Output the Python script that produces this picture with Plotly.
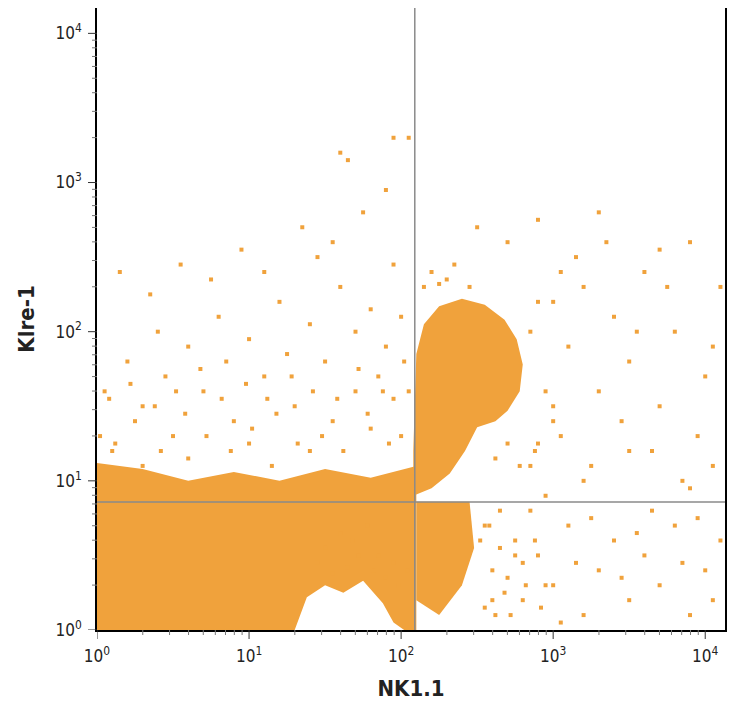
import plotly.graph_objects as go

ORANGE = "#F0A23C"

# quadrant gates (linear units)
gate_x = 123
gate_y = 7.2

# dense regions, vertices in log10 units (NK1.1, Klre-1)
dense_ll_x = [0, 1.3, 1.38, 1.5, 1.62, 1.75, 1.88, 1.95, 2.02, 2.1, 2.1, 1.8, 1.5, 1.2, 0.9, 0.6, 0.3, 0]
dense_ll_y = [0, 0, 0.22, 0.3, 0.25, 0.33, 0.18, 0.05, 0, 0, 1.1, 1.02, 1.08, 1.0, 1.06, 1.0, 1.08, 1.12]
blob_x = [2.08, 2.1, 2.15, 2.25, 2.4, 2.55, 2.68, 2.76, 2.8, 2.78, 2.7, 2.62, 2.5, 2.42, 2.32, 2.2, 2.08]
blob_y = [1.2, 1.85, 2.05, 2.17, 2.22, 2.18, 2.08, 1.95, 1.78, 1.6, 1.47, 1.4, 1.36, 1.2, 1.05, 0.95, 0.9]
dense_lr_x = [2.1, 2.25, 2.4, 2.48, 2.45, 2.3, 2.1]
dense_lr_y = [0.2, 0.1, 0.3, 0.55, 0.86, 0.86, 0.86]

# sparse events, log10 units
sparse_x = [0.1, 0.3, 0.5, 0.7, 0.9, 1.1, 1.3, 1.5, 1.7, 1.9, 2.0, 0.2, 0.4, 0.6, 0.8, 1.0, 1.2, 1.4, 1.6, 1.8,
            0.15, 0.55, 0.95, 1.35, 1.55, 1.75, 1.95, 1.6, 1.65, 1.9, 2.05, 1.95, 0.3, 0.6, 1.0, 1.4, 1.8, 0.05,
            1.25, 1.85, 0.35, 0.75, 1.1, 1.45, 1.7, 2.0, 0.45, 0.85, 1.15, 1.55, 1.95,
            0.02, 0.12, 0.25, 0.42, 0.58, 0.72, 0.88, 1.02, 1.18, 1.32, 1.48, 1.62, 1.78, 1.92, 2.05,
            0.08, 0.22, 0.38, 0.52, 0.68, 0.82, 0.98, 1.12, 1.28, 1.42, 1.58, 1.72, 1.88, 2.02,
            1.45, 1.55, 1.65, 1.72, 1.82, 1.9, 1.98, 1.5, 1.68, 1.85, 1.95, 1.6, 1.78, 2.04,
            3.0, 3.1, 3.2, 3.3, 3.4, 3.5, 3.6, 3.7, 3.8, 3.9, 4.0, 4.1, 3.05, 3.25, 3.45, 3.65, 3.85, 3.95, 4.05,
            3.15, 3.35, 3.55, 3.75, 3.0, 3.2, 3.5, 3.9, 2.7, 2.5, 2.9, 3.05, 4.05, 3.7, 3.3,
            2.8, 2.9, 3.0, 3.1, 3.2, 3.3, 3.4, 3.5, 3.6, 3.7, 3.8, 3.9, 4.0, 4.1, 2.85, 3.05, 3.25, 3.45, 3.65,
            3.85, 3.95, 4.05, 2.75, 3.15, 3.55, 2.6, 2.65, 2.55, 2.7, 2.62, 2.85, 2.9, 2.95, 2.3, 2.2, 2.35,
            2.55, 2.6, 2.68, 2.75, 2.82, 2.88, 2.92, 2.58, 2.72, 2.8, 2.65, 2.52, 2.95, 2.15, 2.25, 2.45,
            2.85, 2.9, 2.95, 3.0, 2.88, 2.78, 2.7, 2.62]
sparse_y = [1.2, 1.5, 1.3, 1.6, 1.4, 1.7, 1.5, 1.8, 1.6, 1.9, 1.3, 1.8, 2.0, 1.9, 2.1, 1.95, 2.2, 2.05, 2.3, 2.15,
            2.4, 2.45, 2.55, 2.7, 2.6, 2.8, 2.45, 3.2, 3.15, 2.95, 3.3, 3.3, 1.1, 1.15, 1.25, 1.2, 1.35, 1.6,
            1.85, 1.7, 2.25, 2.35, 2.4, 2.5, 2.0, 2.1, 1.7, 1.8, 1.1, 1.4, 1.55,
            1.3, 1.25, 1.4, 1.2, 1.45, 1.3, 1.2, 1.35, 1.45, 1.25, 1.3, 1.2, 1.45, 1.25, 1.6,
            1.55, 1.65, 1.5, 1.6, 1.75, 1.55, 1.65, 1.55, 1.7, 1.6, 1.55, 1.75, 1.6, 1.8,
            0.45, 0.38, 0.42, 0.5, 0.4, 0.35, 0.3, 0.55, 0.6, 0.5, 0.45, 0.65, 0.7, 0.4,
            2.2, 1.9, 2.3, 1.6, 2.1, 1.8, 2.4, 1.5, 2.0, 2.6, 1.7, 2.3, 1.3, 1.1, 1.4, 1.2, 1.0, 1.3, 1.1,
            2.5, 2.6, 2.0, 2.3, 1.5, 1.0, 1.2, 0.95, 2.6, 2.7, 2.75, 2.4, 1.9, 2.55, 2.8,
            0.2, 0.5, 0.3, 0.7, 0.1, 0.4, 0.6, 0.2, 0.5, 0.3, 0.7, 0.1, 0.4, 0.6, 0.8, 0.05, 0.75, 0.35, 0.8,
            0.45, 0.75, 0.2, 0.6, 0.45, 0.65, 0.2, 0.55, 0.7, 0.35, 0.1, 1.1, 1.25, 0.9, 2.35, 2.4, 2.45,
            0.15, 0.4, 0.25, 0.5, 0.3, 0.6, 0.15, 0.7, 0.1, 0.45, 0.8, 0.6, 0.3, 2.3, 2.32, 2.3,
            2.0, 2.2, 1.6, 1.4, 1.2, 1.1, 1.25, 1.15]

tick_vals = [1, 10, 100, 1000, 10000]
tick_text = ["10<sup>0</sup>", "10<sup>1</sup>", "10<sup>2</sup>", "10<sup>3</sup>", "10<sup>4</sup>"]
minor_vals = [m * d for d in [1, 10, 100, 1000] for m in range(2, 10)]

def lin(v):
    return [10 ** a for a in v]

fig = go.Figure()
for xs, ys in [(dense_ll_x, dense_ll_y), (blob_x, blob_y), (dense_lr_x, dense_lr_y)]:
    fig.add_scatter(x=lin(xs), y=lin(ys), fill="toself", fillcolor=ORANGE,
                    mode="none", hoverinfo="skip")
fig.add_scatter(x=lin(sparse_x), y=lin(sparse_y), mode="markers",
                marker=dict(symbol="square", size=4, color=ORANGE, line=dict(width=0)))

fig.add_vline(x=gate_x, line=dict(color="#8a8a8a", width=1.5))
fig.add_hline(y=gate_y, line=dict(color="#8a8a8a", width=1.5))

# tick marks drawn outside the frame (paper fractions of a 628x622 plot area)
for v in tick_vals + minor_vals:
    major = v in tick_vals
    lx = (9 if major else 5) / 628
    ly = (9 if major else 5) / 622
    col = "#333" if major else "#777"
    fig.add_shape(type="line", xref="x", yref="paper", x0=v, x1=v, y0=0, y1=-ly,
                  line=dict(color=col, width=1))
    fig.add_shape(type="line", xref="paper", yref="y", y0=v, y1=v, x0=0, x1=-lx,
                  line=dict(color=col, width=1))

axis = dict(type="log", showgrid=False, zeroline=False, showline=True, mirror=True,
            linecolor="black", linewidth=1.5, ticks="", ticklabelstandoff=10,
            tickvals=tick_vals, ticktext=tick_text, automargin=False,
            tickfont=dict(size=17, color="#222"))
fig.update_xaxes(axis, range=[0, 4.13],
                 title=dict(text="<b>NK1.1</b>", font=dict(size=22, color="#222")))
fig.update_yaxes(axis, range=[0, 4.17],
                 title=dict(text="<b>Klre-1</b>", font=dict(size=22, color="#222")))
fig.update_layout(width=728, height=720, showlegend=False,
                  plot_bgcolor="white", paper_bgcolor="white",
                  font=dict(family="Liberation Sans Narrow, DejaVu Sans Condensed, sans-serif"),
                  margin=dict(l=89, r=11, t=0, b=98))
fig.write_html("out.html")
